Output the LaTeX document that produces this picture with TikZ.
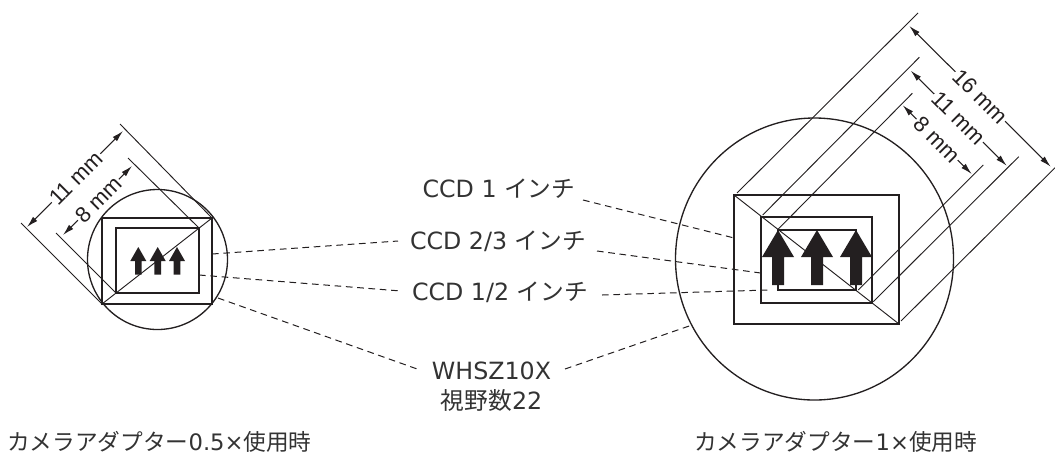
\documentclass[tikz,border=0pt]{standalone}
\usepackage{fontspec}
\usetikzlibrary{arrows.meta}
\setmainfont{DejaVu Sans}
\newfontfamily\jpfont{Noto Sans CJK JP}
\newfontfamily\dimfont{Liberation Sans}
\newcommand{\jp}[1]{{\jpfont #1}}
\definecolor{ink}{HTML}{231F20}
\definecolor{txt}{HTML}{333333}
\tikzset{
  x=0.75pt,y=-0.75pt,
  circ/.style={draw=ink,line width=1pt},
  frame/.style={draw=ink,line width=1.2pt},
  ext/.style={draw=ink,line width=0.7pt},
  dim/.style={draw=ink,line width=0.8pt,{Latex[length=8.5pt,width=4.5pt]}-{Latex[length=8.5pt,width=4.5pt]}},
  leader/.style={draw=ink,line width=0.75pt,dash pattern=on 5pt off 3.5pt},
  label/.style={text=txt,font=\fontsize{17.8pt}{22.5pt}\selectfont,inner sep=0pt,align=center},
  caption/.style={text=txt,font=\fontsize{17pt}{22.5pt}\selectfont,inner sep=0pt,anchor=west},
  dimlabel/.style={text=ink,font=\dimfont\fontsize{16.5pt}{18pt}\selectfont,fill=white,inner sep=1pt},
  bigarrow/.style={fill=ink,draw=none},
}
\begin{document}
\begin{tikzpicture}
\useasboundingbox (0,0) rectangle (1055,455);
% left group
\draw[circ] (157.5,259.5) circle (70);
\draw[frame] (102,218) rectangle (212,304);
\draw[frame] (116,228) rectangle (199,293);
\coordinate (lTR) at (212,218);
\coordinate (lBL) at (102,304);
\coordinate (liTR) at (199,228);
\coordinate (liBL) at (116,293);
\draw[ext] (lBL) -- (lTR);
\foreach \c in {138.3,157.7,177}{
  \fill[bigarrow] (\c,247) -- (\c+8,261) -- (\c+3.3,261) -- (\c+3.3,274.5) -- (\c-3.3,274.5) -- (\c-3.3,261) -- (\c-8,261) -- cycle;
}
\coordinate (le1) at (120,124);
\coordinate (le2) at (128,158);
\coordinate (le3) at (56,233);
\coordinate (le4) at (21,223);
\draw[ext] (lTR) -- (le1);
\draw[ext] (liTR) -- (le2);
\draw[ext] (liBL) -- (le3);
\draw[ext] (lBL) -- (le4);
\coordinate (la1) at (27,227);
\coordinate (la2) at (123,131);
\coordinate (la3) at (63,235);
\coordinate (la4) at (132,166);
\draw[dim] (la1) -- (la2);
\draw[dim] (la3) -- (la4);
\node[dimlabel,rotate=45] (l11) at (76,178) {11 mm};
\node[dimlabel,rotate=45] (l8) at (98.7,200) {8 mm};
% right group
\draw[circ] (814.5,259) ellipse (139 and 141);
\draw[frame] (734,195) rectangle (899,324);
\draw[frame] (761,217) rectangle (872,303);
\draw[frame] (778,230) rectangle (856,290);
\coordinate (rTL) at (734,195);
\coordinate (rBR) at (899,324);
\draw[ext] (rTL) -- (rBR);
\foreach \c in {778,817,856}{
  \fill[bigarrow] (\c,230) -- (\c+16,257) -- (\c+6,257) -- (\c+6,285) -- (\c-6,285) -- (\c-6,257) -- (\c-16,257) -- cycle;
}
\coordinate (re1a) at (737,193);
\coordinate (re1b) at (918,13);
\coordinate (re2a) at (762.7,215);
\coordinate (re2b) at (919.3,57.3);
\coordinate (re3a) at (778.3,229);
\coordinate (re3b) at (912.3,93.3);
\coordinate (re4a) at (858.3,290);
\coordinate (re4b) at (983.3,165);
\coordinate (re5a) at (873.3,301.7);
\coordinate (re5b) at (1018.7,156.7);
\coordinate (re6a) at (901,321);
\coordinate (re6b) at (1055,167.7);
\foreach \i in {1,...,6}{\draw[ext] (re\i a) -- (re\i b);}
\coordinate (ra1) at (909.3,26);
\coordinate (ra2) at (1050.7,166.7);
\coordinate (ra3) at (910.7,70.7);
\coordinate (ra4) at (1006.7,165.7);
\coordinate (ra5) at (902.7,105.3);
\coordinate (ra6) at (971.7,174);
\draw[dim] (ra1) -- (ra2);
\draw[dim] (ra3) -- (ra4);
\draw[dim] (ra5) -- (ra6);
\node[dimlabel,rotate=-45] (r16) at (980,96.7) {16 mm};
\node[dimlabel,rotate=-45] (r11) at (958.3,118.3) {11 mm};
\node[dimlabel,rotate=-45] (r8) at (936.7,140) {8 mm};
% labels
\node[label] (c1) at (499,189) {CCD 1 \jp{インチ}};
\node[label] (c23) at (498,241) {CCD 2/3 \jp{インチ}};
\node[label] (c12) at (500,292) {CCD 1/2 \jp{インチ}};
\node[label] (w) at (491.5,387) {WHSZ10X\\\jp{視野数}22};
\node[caption] (capl) at (7,442) {\jp{カメラアダプター}0.5×\jp{使用時}};
\node[caption] (capr) at (694,442) {\jp{カメラアダプター}1×\jp{使用時}};
% leaders
\coordinate (t1) at (733,237.7);
\coordinate (t2) at (760.7,273);
\coordinate (t3) at (768,290);
\coordinate (t4) at (692,325);
\coordinate (s2) at (212,254);
\coordinate (s3) at (199,275);
\coordinate (s4) at (218,298);
\coordinate (c1r) at (583,200);
\coordinate (c23r) at (597,251);
\coordinate (c12r) at (602,295);
\coordinate (wr) at (565,369);
\coordinate (c23l) at (398,241);
\coordinate (c12l) at (401,291);
\coordinate (wl) at (420,370);
\draw[leader] (c1r) -- (t1);
\draw[leader] (c23r) -- (t2);
\draw[leader] (c12r) -- (t3);
\draw[leader] (wr) -- (t4);
\draw[leader] (s2) -- (c23l);
\draw[leader] (s3) -- (c12l);
\draw[leader] (s4) -- (wl);
\end{tikzpicture}
\end{document}
